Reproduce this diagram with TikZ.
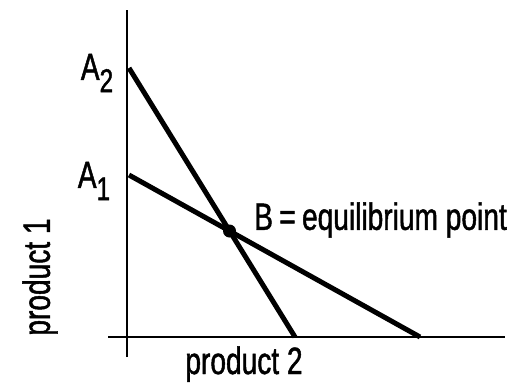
\documentclass[tikz,border=0pt]{standalone}
\usepackage{fontspec}
\setmainfont{Liberation Sans}[FakeStretch=0.74,FakeBold=1.2]
\usepackage{tikz}
\usetikzlibrary{positioning,calc}
\newcommand{\lowsub}[1]{\raisebox{-0.32em}{\fontsize{33}{33}\selectfont #1}}

\begin{document}
\begin{tikzpicture}[x=1pt,y=1pt,font=\fontsize{38}{40}\selectfont]
\tikzstyle{axis}=[line width=2.6pt]
\tikzstyle{curve}=[line width=5pt]
\tikzstyle{lbl}=[inner sep=0pt,anchor=center]
\useasboundingbox (0,0) rectangle (510,384);
% axes
\coordinate (ytop) at (127,374);
\coordinate (ybot) at (127,27);
\coordinate (xl) at (108,47);
\coordinate (xr) at (505,47);
\draw[axis] (ybot)--(ytop);
\draw[axis] (xl)--(xr);
% the two lines
\coordinate (a2) at (129,316);
\coordinate (a2end) at (295,47);
\coordinate (a1) at (129,209);
\coordinate (a1end) at (420,47);
\draw[curve] (a2)--(a2end);
\draw[curve] (a1)--(a1end);
\fill (229.5,153) circle (6.5) coordinate (b);
% labels
\node[lbl] (la2) at (97,311) {A\lowsub{2}};
\node[lbl] (la1) at (94,203) {A\lowsub{1}};
\node[lbl,anchor=west] (lb) at (254,164) {B\,=\,equilibrium\ point};
\node[lbl,rotate=90] (lp1) at (40,107) {product 1};
\node[lbl,anchor=base] (lp2) at (244,10) {product\ 2};
\end{tikzpicture}
\end{document}
